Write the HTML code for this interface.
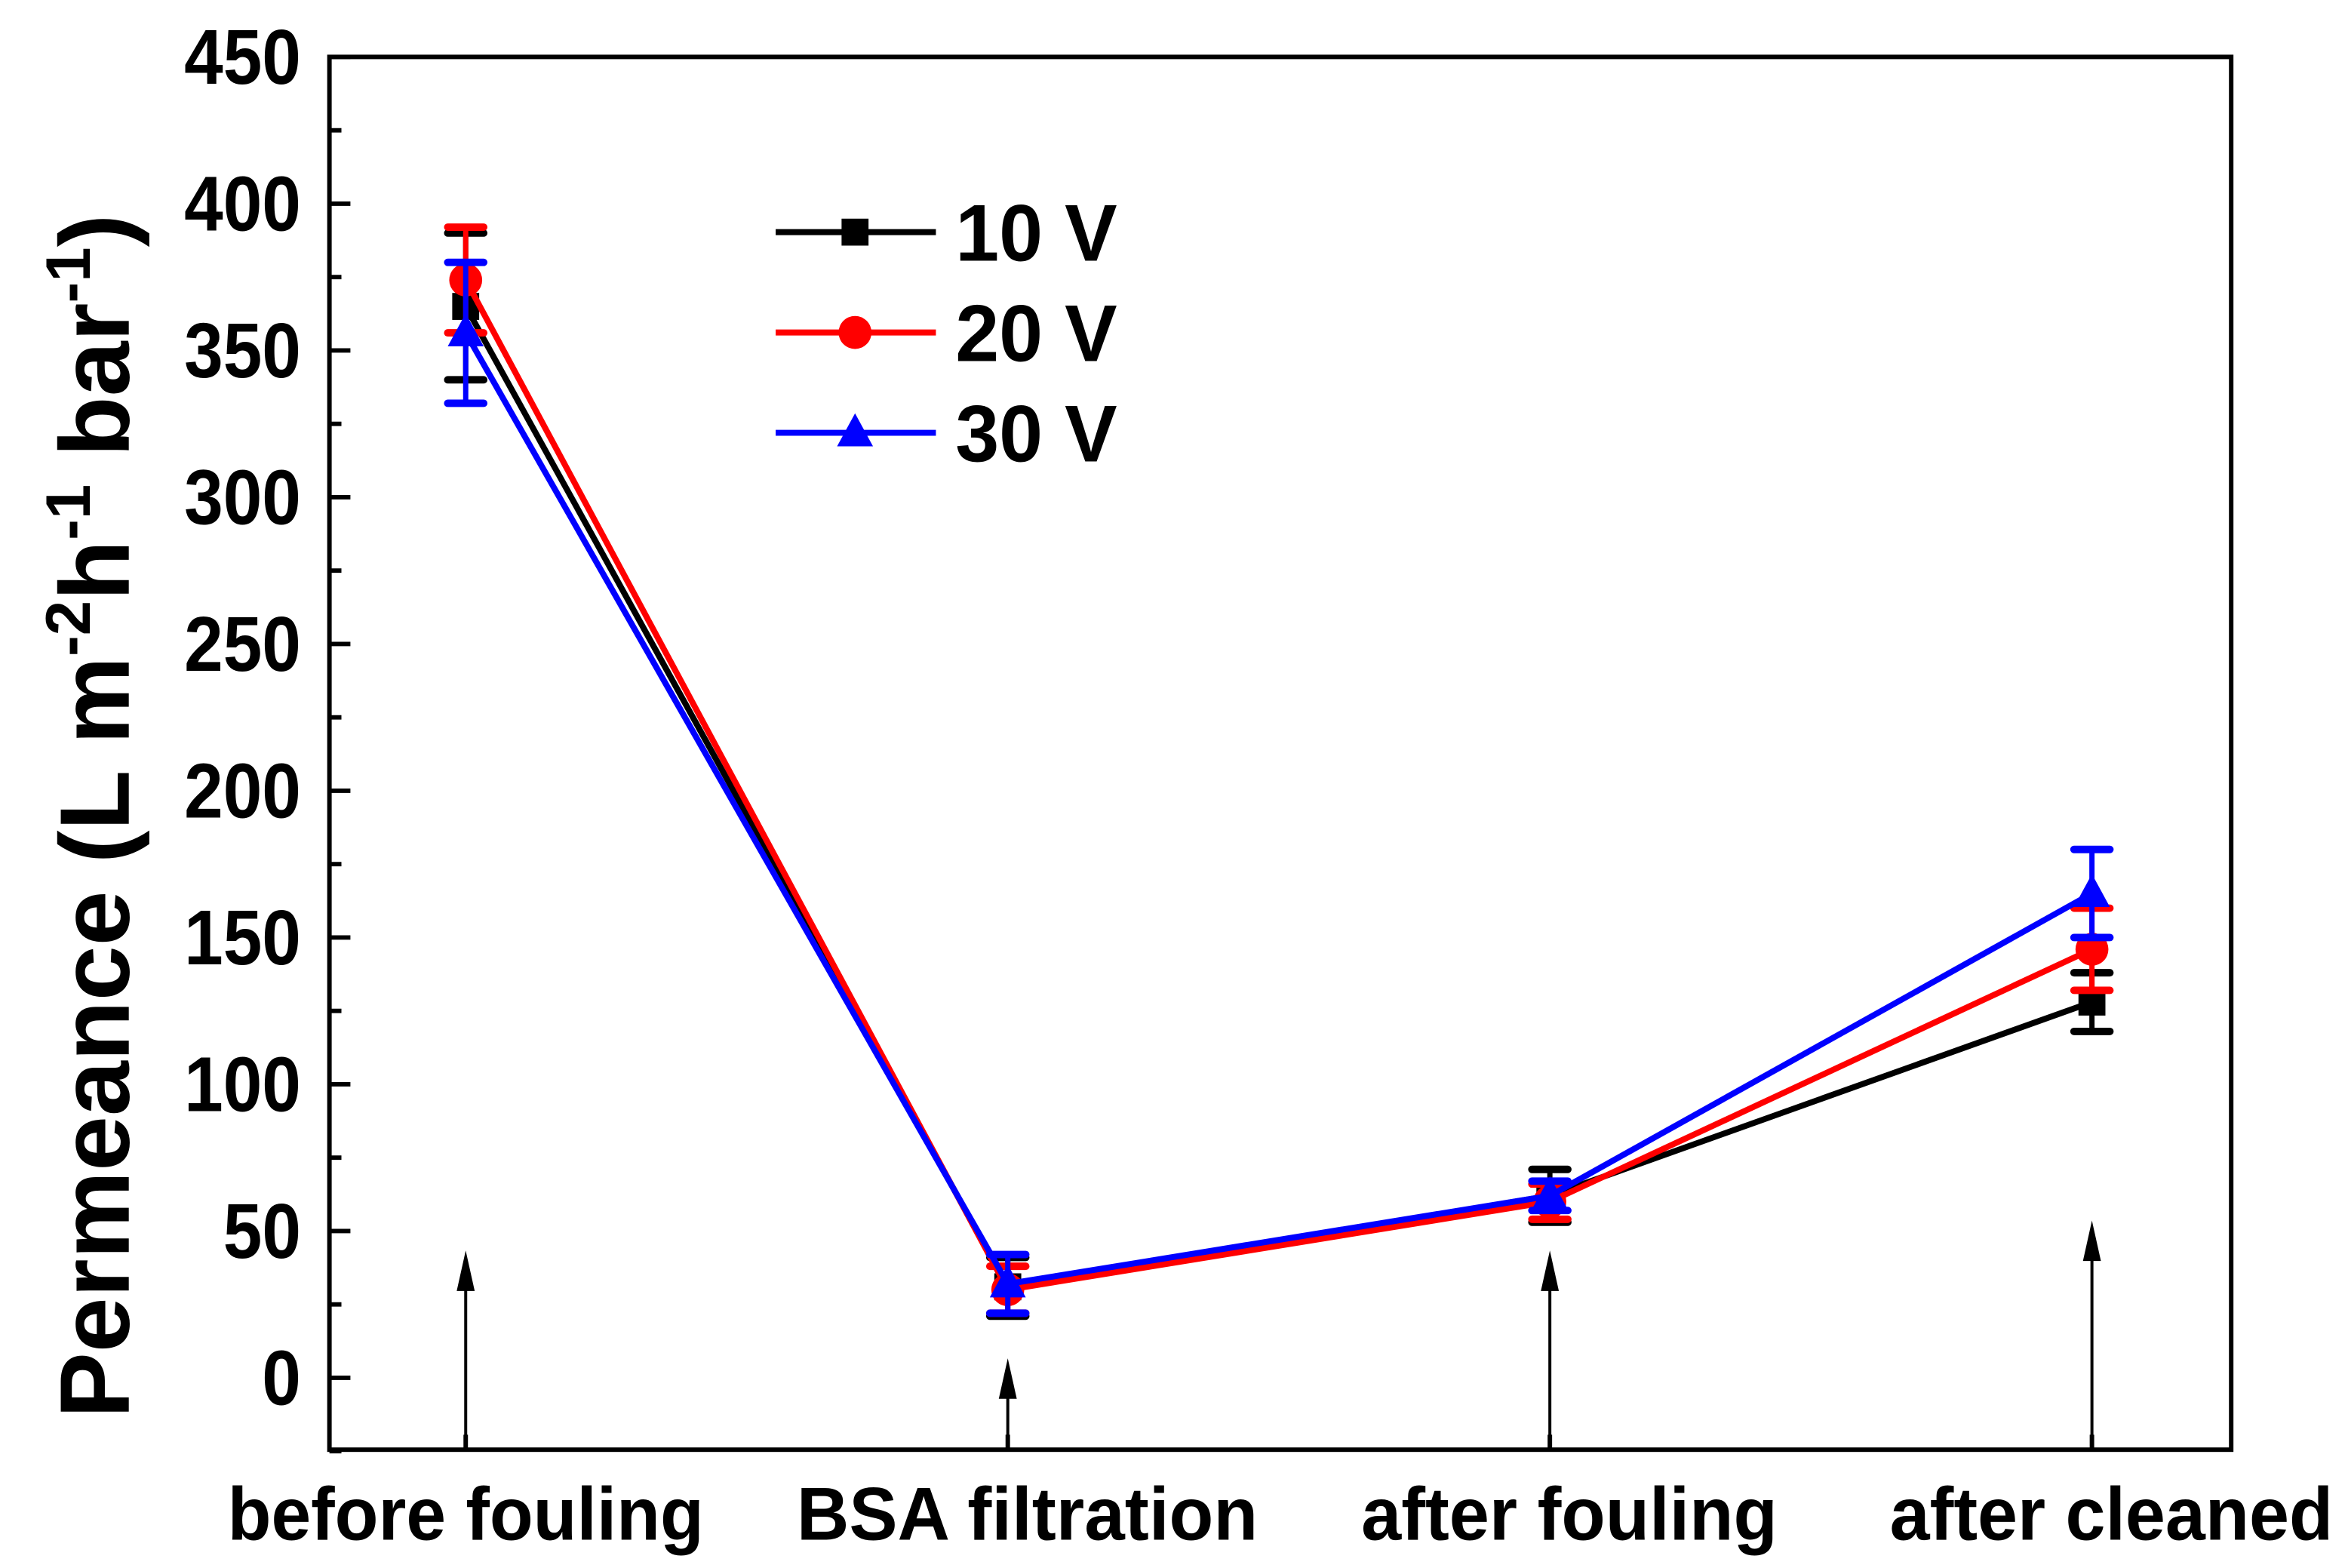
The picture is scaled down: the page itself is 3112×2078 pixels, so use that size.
<!DOCTYPE html>
<html><head><meta charset="utf-8"><style>
html,body{margin:0;padding:0;background:#fff}
svg{display:block}
text{font-family:"Liberation Sans",Arial,sans-serif;font-weight:bold}
</style></head><body>
<svg id="chart" width="3112" height="2078" viewBox="0 0 1568 1047" preserveAspectRatio="none" xmlns="http://www.w3.org/2000/svg"></svg>
<script>
const categories = ["before fouling","BSA filtration","after fouling","after cleaned"];
const seriesNames = ["10 V","20 V","30 V"];
const values10 = [365, 31, 62, 128];
const errors10 = [25, 10, 9, 10];
const values20 = [374, 30, 60, 146];
const errors20 = [18, 8, 6, 14];
const values30 = [356, 32, 62, 165];
const errors30 = [24, 10, 5, 15];
const yTicks = [0,50,100,150,200,250,300,350,400,450];
const arrowTops = [835, 907, 835, 815];

const NS="http://www.w3.org/2000/svg";
const svg=document.getElementById('chart');
const L=220,R=1490,T=38,B=968;
function ys(v){return 920-(v/50)*98.0;}
function xs(i){return 311+i*362;}
function mk(tag,attrs,parent){const e=document.createElementNS(NS,tag);for(const k in attrs)e.setAttribute(k,attrs[k]);(parent||svg).appendChild(e);return e;}

arrowTops.forEach((t,i)=>{
  const g=mk('g',{});
  
  
  mk('line',{x1:xs(i),y1:B,x2:xs(i),y2:t+25,stroke:'#000','stroke-width':2},g);
  mk('polygon',{points:`${xs(i)},${t} ${xs(i)-6},${t+27} ${xs(i)+6},${t+27}`,fill:'#000'},g);
});

const frame=mk('rect',{x:L,y:T,width:R-L,height:B-T,fill:'none',stroke:'#000','stroke-width':3});



yTicks.forEach(v=>{
  const y=ys(v);
  mk('line',{x1:L,y1:y,x2:L+14,y2:y,stroke:'#000','stroke-width':3});
  const s=String(v);
  const t=mk('text',{x:201,y:y+18,'text-anchor':'end','font-size':52,textLength:26*s.length,lengthAdjust:'spacingAndGlyphs'});
  t.textContent=s;
  
  
  if(v<450){const m=ys(v+25);mk('line',{x1:L,y1:m,x2:L+8,y2:m,stroke:'#000','stroke-width':3});}
});
mk('line',{x1:L,y1:ys(-25),x2:L+8,y2:ys(-25),stroke:'#000','stroke-width':3});

const labelW=[318,308,278,296];
const labelC=[311,686,1048,1410];
categories.forEach((c,i)=>{
  mk('line',{x1:xs(i),y1:B,x2:xs(i),y2:B-10,stroke:'#000','stroke-width':3});
  const t=mk('text',{x:labelC[i],y:1028,'text-anchor':'middle','font-size':50,textLength:labelW[i],lengthAdjust:'spacingAndGlyphs'});
  t.textContent=c;
  
  
});

const yt=mk('text',{transform:'translate(86,545) rotate(-90)','text-anchor':'middle','font-size':66});


yt.innerHTML='Permeance (L m<tspan dy="-26" font-size="42">-2</tspan><tspan dy="26">h</tspan><tspan dy="-26" font-size="42">-1</tspan><tspan dy="26"> bar</tspan><tspan dy="-26" font-size="42">-1</tspan><tspan dy="26">)</tspan>';

const colors=['#000','#f00','#00f'];
const vals=[values10,values20,values30];
const errs=[errors10,errors20,errors30];
function marker(k,x,y,g){
  if(k===0)mk('rect',{x:x-9,y:y-9,width:18,height:18,fill:colors[k]},g);
  else if(k===1)mk('circle',{cx:x,cy:y,r:11,fill:colors[k]},g);
  else mk('polygon',{points:`${x},${y-13} ${x-12},${y+9} ${x+12},${y+9}`,fill:colors[k]},g);
}
[0,1,2].forEach(k=>{
  const g=mk('g',{});
  
  
  const pts=vals[k].map((v,i)=>xs(i)+','+ys(v)).join(' ');
  mk('polyline',{points:pts,fill:'none',stroke:colors[k],'stroke-width':4},g);
  vals[k].forEach((v,i)=>{
    const x=xs(i),e=errs[k][i];
    mk('line',{x1:x,y1:ys(v+e),x2:x,y2:ys(v-e),stroke:colors[k],'stroke-width':3.5},g);
    mk('line',{x1:x-12,y1:ys(v+e),x2:x+12,y2:ys(v+e),stroke:colors[k],'stroke-width':5,'stroke-linecap':'round'},g);
    mk('line',{x1:x-12,y1:ys(v-e),x2:x+12,y2:ys(v-e),stroke:colors[k],'stroke-width':5,'stroke-linecap':'round'},g);
    marker(k,x,ys(v),g);
  });
  const lg=mk('g',{});
  
  
  const ly=155+k*67;
  mk('line',{x1:518,y1:ly,x2:625,y2:ly,stroke:colors[k],'stroke-width':4},lg);
  marker(k,571,ly,lg);
  const lt=mk('text',{x:638,y:ly+19,'font-size':54,textLength:108,lengthAdjust:'spacingAndGlyphs'},lg);
  lt.textContent=seriesNames[k];
});
</script>
</body></html>
